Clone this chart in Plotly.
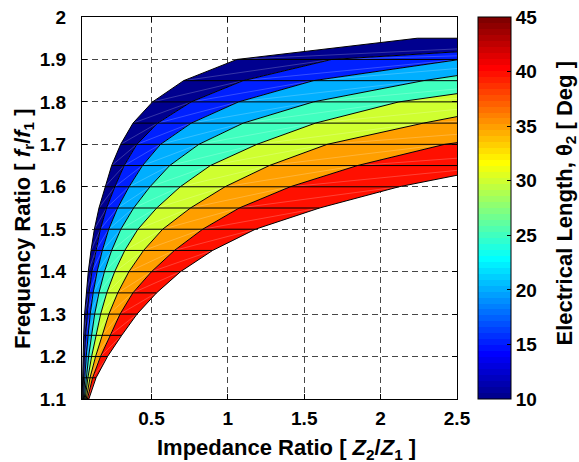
import plotly.graph_objects as go

# ---------------- data ----------------
freq_ratio = [1.10, 1.15, 1.20, 1.25, 1.30, 1.35, 1.40, 1.45, 1.50,
              1.55, 1.60, 1.65, 1.70, 1.75, 1.80, 1.85, 1.90, 1.95]
theta_levels = [10, 15, 20, 25, 30, 35, 40, 45]

# impedance ratio Z2/Z1 along each constant-theta edge, one value per frequency-ratio row
z_theta10 = [0.046, 0.048, 0.051, 0.056, 0.062, 0.072, 0.086, 0.104, 0.126,
             0.156, 0.195, 0.239, 0.298, 0.379, 0.507, 0.71, 1.06, 2.24]
z_theta15 = [0.0499, 0.0544, 0.0605, 0.0686, 0.0777, 0.0915, 0.110, 0.135, 0.165,
             0.206, 0.260, 0.321, 0.404, 0.54, 0.76, 1.10, 1.68, 3.96]
z_theta20 = [0.0544, 0.0623, 0.0727, 0.0853, 0.0989, 0.118, 0.144, 0.178, 0.220,
             0.278, 0.353, 0.441, 0.559, 0.76, 1.07, 1.56, 2.52, 6.5]
z_theta25 = [0.0596, 0.0719, 0.0884, 0.108, 0.128, 0.156, 0.192, 0.239, 0.299,
             0.383, 0.490, 0.619, 0.81, 1.10, 1.56, 2.28, 3.2, 9.0]
z_theta30 = [0.0656, 0.0836, 0.108, 0.137, 0.167, 0.207, 0.259, 0.325, 0.411,
             0.534, 0.688, 0.885, 1.19, 1.573, 2.12, 3.1, 5.0, 13.0]
z_theta35 = [0.0725, 0.0976, 0.134, 0.177, 0.221, 0.279, 0.352, 0.448, 0.573,
             0.755, 0.981, 1.271, 1.65, 2.28, 3.0, 4.5, 7.5, 20.0]
z_theta40 = [0.0802, 0.1145, 0.166, 0.228, 0.294, 0.378, 0.50, 0.65, 0.835,
             1.074, 1.408, 1.848, 2.42, 3.45, 4.8, 7.0, 11.0, 30.0]
z_theta45 = [0.090, 0.137, 0.212, 0.305, 0.405, 0.533, 0.690, 0.900, 1.18,
             1.60, 2.12, 2.82, 3.73, 5.45, 8.0, 12.0, 18.0, 45.0]

curves = [z_theta10, z_theta15, z_theta20, z_theta25,
          z_theta30, z_theta35, z_theta40, z_theta45]

x_ticks = [0.5, 1, 1.5, 2, 2.5]
x_tick_text = ["0.5", "1", "1.5", "2", "2.5"]
y_ticks = [1.1, 1.2, 1.3, 1.4, 1.5, 1.6, 1.7, 1.8, 1.9, 2.0]
y_tick_text = ["1.1", "1.2", "1.3", "1.4", "1.5", "1.6", "1.7", "1.8", "1.9", "2"]
cbar_ticks = [10, 15, 20, 25, 30, 35, 40, 45]
c_min, c_max = 10, 45
x_range = [0.045, 2.5]
y_range = [1.1, 2.0]

x_title = "<b>Impedance Ratio [ <i>Z</i><sub>2</sub>/<i>Z</i><sub>1</sub> ]</b>"
y_title = "<b>Frequency Ratio [ <i>f</i><sub>r</sub>/<i>f</i><sub>1</sub> ]</b>"
c_title = "<b>Electrical Length, θ<sub>2</sub> [ Deg ]</b>"

FONT = "Liberation Sans"
TICK_SIZE = 19
TITLE_SIZE = 22


# ---------------- MATLAB jet(64) colormap ----------------
def jet64(i):  # 1-based index
    if i <= 24:
        r = 0.0
    elif i <= 40:
        r = (i - 24) / 16
    elif i <= 56:
        r = 1.0
    else:
        r = (16 - (i - 56)) / 16
    if i <= 8:
        g = 0.0
    elif i <= 24:
        g = (i - 8) / 16
    elif i <= 40:
        g = 1.0
    elif i <= 56:
        g = (16 - (i - 40)) / 16
    else:
        g = 0.0
    if i <= 8:
        b = (i + 8) / 16
    elif i <= 24:
        b = 1.0
    elif i <= 40:
        b = (16 - (i - 24)) / 16
    else:
        b = 0.0
    return "rgb(%d,%d,%d)" % (round(r * 255), round(g * 255), round(b * 255))


def color_for(v):
    idx = int((v - c_min) / (c_max - c_min) * 64) + 1
    idx = max(1, min(64, idx))
    return jet64(idx)


jet_scale = []
for i in range(1, 65):
    jet_scale.append([(i - 1) / 64, jet64(i)])
    jet_scale.append([i / 64, jet64(i)])

fig = go.Figure()

# filled bands
for k in range(len(curves) - 1):
    xs = curves[k] + curves[k + 1][::-1] + [curves[k][0]]
    ys = freq_ratio + freq_ratio[::-1] + [freq_ratio[0]]
    fig.add_trace(go.Scatter(x=xs, y=ys, mode="lines", fill="toself",
                             fillcolor=color_for(theta_levels[k]),
                             line=dict(width=0), hoverinfo="skip",
                             showlegend=False))

# faint seams (triangle diagonals of each facet)
sx, sy = [], []
for k in range(len(curves) - 1):
    for j in range(len(freq_ratio) - 1):
        sx += [curves[k][j], curves[k + 1][j + 1], None]
        sy += [freq_ratio[j], freq_ratio[j + 1], None]
fig.add_trace(go.Scatter(x=sx, y=sy, mode="lines",
                         line=dict(color="rgba(255,255,255,0.3)", width=0.7),
                         hoverinfo="skip", showlegend=False))

# constant-theta edges
for c in curves:
    fig.add_trace(go.Scatter(x=c, y=freq_ratio, mode="lines",
                             line=dict(color="black", width=1),
                             hoverinfo="skip", showlegend=False))

# constant-frequency-ratio edges
hx, hy = [], []
for j, yv in enumerate(freq_ratio):
    row = [c[j] for c in curves]
    hx += [min(row), max(row), None]
    hy += [yv, yv, None]
fig.add_trace(go.Scatter(x=hx, y=hy, mode="lines",
                         line=dict(color="black", width=1),
                         hoverinfo="skip", showlegend=False))

# colorbar carrier
fig.add_trace(go.Scatter(
    x=[z_theta10[0]], y=[freq_ratio[0]], mode="markers",
    marker=dict(size=0.1, opacity=0, color=[c_min], cmin=c_min, cmax=c_max,
                colorscale=jet_scale, showscale=True,
                colorbar=dict(
                    x=1.056, xanchor="left", y=0.5, yanchor="middle",
                    len=1.0, lenmode="fraction", thickness=33,
                    xpad=0, ypad=0,
                    outlinewidth=1, outlinecolor="black",
                    tickvals=cbar_ticks,
                    ticktext=["<b>%d</b>" % t for t in cbar_ticks],
                    ticks="inside", ticklen=4, tickcolor="black",
                    tickfont=dict(size=TICK_SIZE, color="black", family=FONT))),
    hoverinfo="skip", showlegend=False))

# titles placed as text annotations (positions match the reference)
title_font = dict(size=TITLE_SIZE, color="black", family=FONT)
fig.add_annotation(text=c_title, xref="paper", yref="paper", x=1.291, y=0.512,
                   xanchor="center", yanchor="middle", textangle=-90,
                   showarrow=False, font=title_font)
fig.add_annotation(text=y_title, xref="paper", yref="paper", x=-0.155, y=0.447,
                   xanchor="center", yanchor="middle", textangle=-90,
                   showarrow=False, font=title_font)
fig.add_annotation(text=x_title, xref="paper", yref="paper", x=0.545, y=-0.131,
                   xanchor="center", yanchor="middle",
                   showarrow=False, font=title_font)

axis_common = dict(showline=True, linecolor="black", linewidth=1, mirror="ticks",
                   ticks="inside", ticklen=5, tickcolor="black",
                   showgrid=True, gridcolor="rgba(50,50,50,0.9)", gridwidth=1,
                   griddash="6px,4px", zeroline=False,
                   tickfont=dict(size=TICK_SIZE, color="black", family=FONT))

fig.update_xaxes(range=x_range, tickvals=x_ticks,
                 ticktext=["<b>%s</b>" % t for t in x_tick_text],
                 ticklabelstandoff=2, **axis_common)
fig.update_yaxes(range=y_range, tickvals=y_ticks,
                 ticktext=["<b>%s</b>" % t for t in y_tick_text],
                 ticklabelstandoff=11, **axis_common)

fig.update_layout(width=579, height=462,
                  margin=dict(l=82, r=122, t=17, b=63, autoexpand=False),
                  plot_bgcolor="white", paper_bgcolor="white",
                  font=dict(family=FONT, color="black"),
                  showlegend=False)

fig.write_html("out.html",
               config={"displayModeBar": False},
               post_script="document.body.style.margin='0px';"
                           "document.body.style.overflow='hidden';")
